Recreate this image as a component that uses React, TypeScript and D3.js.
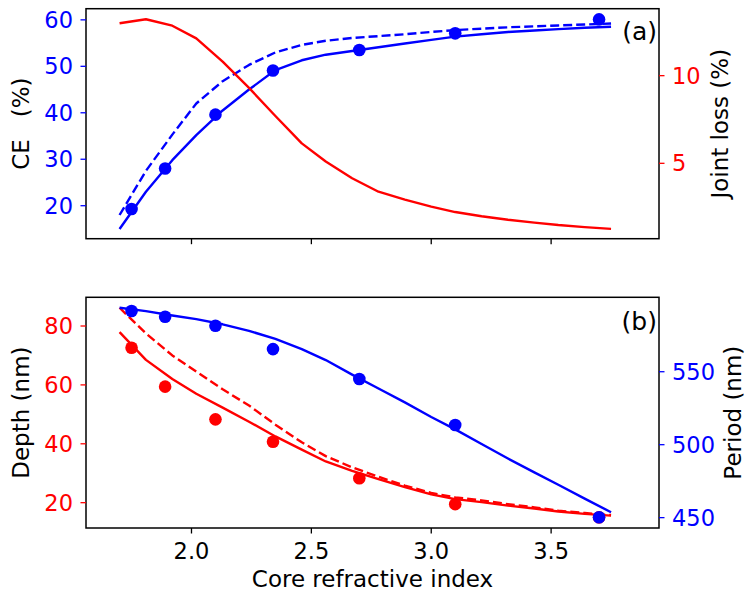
import React from "react";
import * as d3 from "d3";

// core refractive index grid of the simulated curves
const xGrid = [1.7, 1.81, 1.92, 2.02, 2.13, 2.24, 2.35, 2.46, 2.56, 2.67, 2.78, 2.89, 3.0, 3.1, 3.21, 3.32, 3.43, 3.53, 3.64, 3.75];
// refractive index of the measured / optimised points
const xDots = [1.75, 1.89, 2.1, 2.34, 2.7, 3.1, 3.7];

// (a) coupling efficiency and joint loss
const ceSolid = [15.0, 23.0, 29.8, 35.2, 40.5, 45.0, 49.2, 51.3, 52.5, 53.3, 54.1, 54.9, 55.7, 56.4, 56.9, 57.4, 57.7, 58.0, 58.3, 58.5];
const ceDashed = [18.0, 27.5, 35.3, 42.0, 46.8, 50.3, 53.0, 54.6, 55.5, 56.1, 56.5, 56.9, 57.4, 57.8, 58.1, 58.4, 58.6, 58.8, 59.0, 59.2];
const ceDots = [19.3, 28.0, 39.6, 49.1, 53.5, 57.1, 60.1];
const jointLoss = [12.99, 13.22, 12.85, 12.13, 10.8, 9.3, 7.7, 6.14, 5.1, 4.15, 3.38, 2.93, 2.53, 2.22, 1.98, 1.78, 1.62, 1.48, 1.36, 1.26];

// (b) grating depth and period
const depthSolid = [77.9, 68.5, 62.0, 57.0, 52.3, 47.5, 42.5, 38.0, 34.0, 30.8, 28.0, 25.3, 22.8, 21.2, 20.2, 19.0, 18.0, 17.0, 16.2, 15.6];
const depthDashed = [86.2, 77.5, 70.0, 64.5, 58.5, 53.0, 46.5, 40.5, 35.8, 32.0, 28.8, 25.8, 23.3, 21.8, 20.8, 19.5, 18.4, 17.3, 16.5, 15.8];
const depthDots = [72.6, 59.4, 48.3, 40.7, 28.3, 19.5, 15.0];
const period = [593.8, 591.5, 588.5, 586.0, 582.5, 578.0, 572.5, 565.5, 558.0, 548.0, 538.5, 529.0, 519.0, 510.5, 500.5, 490.5, 481.0, 472.5, 463.0, 453.7];
const periodDots = [591.6, 587.7, 581.5, 565.5, 545.0, 513.5, 450.3];

const xTicks = [2.0, 2.5, 3.0, 3.5];
const ceTicks = [20, 30, 40, 50, 60];
const lossTicks = [5, 10];
const depthTicks = [20, 40, 60, 80];
const periodTicks = [450, 500, 550];

const W = 747, H = 595;
const left = 86, right = 659;
const topA = [8.7, 238.7];
const topB = [297.3, 528];
const font = "DejaVu Sans";
const tickSize = 22.5;
const labelSize = 23;
const BLUE = "#0000ff", RED = "#ff0000";

const x = d3.scaleLinear().domain([1.56, 3.95]).range([left, right]);

function Line({ xs, ys, y, color, dashed }: any) {
  const line = d3.line<number>().x((_, i) => x(xs[i])).y((d) => y(d));
  return (
    <path d={line(ys) || ""} fill="none" stroke={color} strokeWidth={2.4}
      strokeDasharray={dashed ? "9,4" : undefined} strokeLinejoin="round" />
  );
}

function Dots({ ys, y, color }: any) {
  return (
    <g>
      {ys.map((d: number, i: number) => (
        <circle key={i} cx={x(xDots[i])} cy={y(d)} r={6.3} fill={color} />
      ))}
    </g>
  );
}

function YAxis({ scale, ticks, color, side }: any) {
  const x0 = side === "left" ? left : right;
  const dir = side === "left" ? -1 : 1;
  return (
    <g>
      {ticks.map((t: number) => (
        <g key={t}>
          <line x1={x0} x2={x0 + dir * 5.5} y1={scale(t)} y2={scale(t)} stroke={color} strokeWidth={1.3} />
          <text x={side === "left" ? x0 - 13 : x0 + 13} y={scale(t) + 8.1}
            textAnchor={side === "left" ? "end" : "start"} fill={color}
            fontSize={tickSize} fontFamily={font}>{t}</text>
        </g>
      ))}
    </g>
  );
}

function XTicks({ yb, labels }: any) {
  return (
    <g>
      {xTicks.map((t) => (
        <g key={t}>
          <line x1={x(t)} x2={x(t)} y1={yb} y2={yb + 5.5} stroke="#000" strokeWidth={1.3} />
          {labels && (
            <text x={x(t)} y={yb + 30.5} textAnchor="middle" fontSize={tickSize} fontFamily={font}>
              {t.toFixed(1)}
            </text>
          )}
        </g>
      ))}
    </g>
  );
}

function VLabel({ cx, cy, text }: any) {
  return (
    <text transform={`translate(${cx},${cy}) rotate(-90)`} textAnchor="middle"
      fontSize={labelSize} fontFamily={font} style={{ whiteSpace: "pre" }}>{text}</text>
  );
}

export default function App() {
  const yCE = d3.scaleLinear().domain([12.9, 62.4]).range([topA[1], topA[0]]);
  const yLoss = d3.scaleLinear().domain([0.7, 13.82]).range([topA[1], topA[0]]);
  const yDepth = d3.scaleLinear().domain([11.4, 89.75]).range([topB[1], topB[0]]);
  const yPeriod = d3.scaleLinear().domain([442.9, 601]).range([topB[1], topB[0]]);
  const cy = (topA[0] + topA[1]) / 2;
  const cyB = (topB[0] + topB[1]) / 2;

  return (
    <svg width={W} height={H} style={{ position: "absolute", left: 0, top: 0, background: "#fff" }}>
      {/* panel (a) */}
      <Line xs={xGrid} ys={ceSolid} y={yCE} color={BLUE} />
      <Line xs={xGrid} ys={ceDashed} y={yCE} color={BLUE} dashed />
      <Dots ys={ceDots} y={yCE} color={BLUE} />
      <Line xs={xGrid} ys={jointLoss} y={yLoss} color={RED} />
      <rect x={left} y={topA[0]} width={right - left} height={topA[1] - topA[0]} fill="none" stroke="#000" strokeWidth={1.5} />
      <YAxis scale={yCE} ticks={ceTicks} color={BLUE} side="left" />
      <YAxis scale={yLoss} ticks={lossTicks} color={RED} side="right" />
      <XTicks yb={topA[1]} labels={false} />
      <VLabel cx={29} cy={cy} text="CE   (%)" />
      <VLabel cx={728} cy={cy} text="Joint loss (%)" />
      <text x={657} y={40} textAnchor="end" fontSize={25} fontFamily={font}>(a)</text>

      {/* panel (b) */}
      <Line xs={xGrid} ys={depthSolid} y={yDepth} color={RED} />
      <Line xs={xGrid} ys={depthDashed} y={yDepth} color={RED} dashed />
      <Dots ys={depthDots} y={yDepth} color={RED} />
      <Line xs={xGrid} ys={period} y={yPeriod} color={BLUE} />
      <Dots ys={periodDots} y={yPeriod} color={BLUE} />
      <rect x={left} y={topB[0]} width={right - left} height={topB[1] - topB[0]} fill="none" stroke="#000" strokeWidth={1.5} />
      <YAxis scale={yDepth} ticks={depthTicks} color={RED} side="left" />
      <YAxis scale={yPeriod} ticks={periodTicks} color={BLUE} side="right" />
      <XTicks yb={topB[1]} labels={true} />
      <VLabel cx={29} cy={cyB} text="Depth (nm)" />
      <VLabel cx={741} cy={cyB} text="Period (nm)" />
      <text x={657} y={330} textAnchor="end" fontSize={25} fontFamily={font}>(b)</text>
      <text x={(left + right) / 2} y={587} textAnchor="middle" fontSize={labelSize} fontFamily={font}>
        Core refractive index
      </text>
    </svg>
  );
}
